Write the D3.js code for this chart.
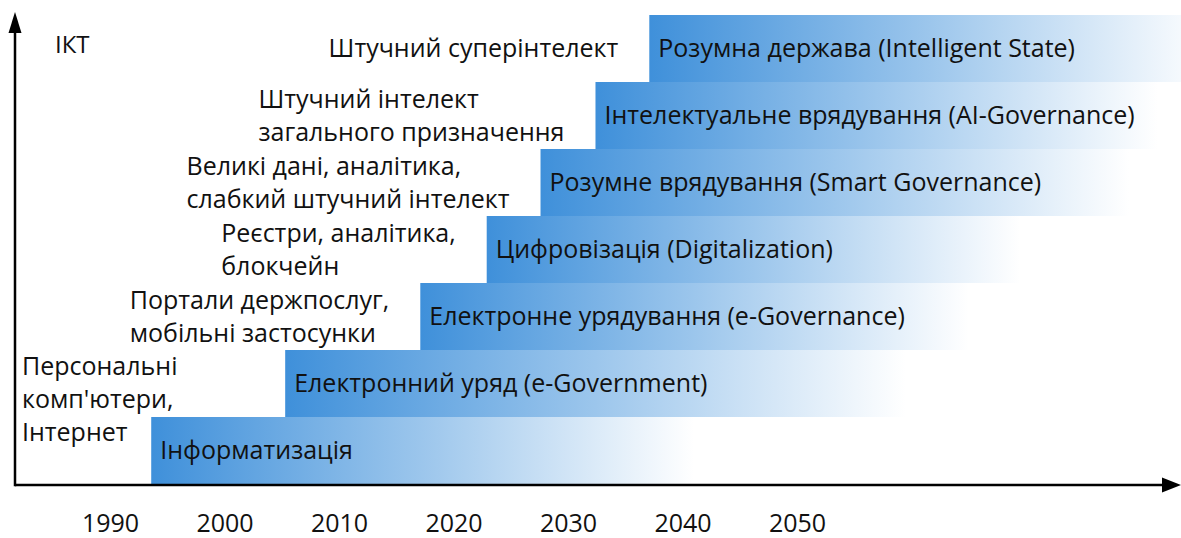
<!DOCTYPE html>
<html>
<head>
<meta charset="utf-8">
<script src="https://cdn.jsdelivr.net/npm/d3@7"></script>
<style>
  html, body { margin: 0; padding: 0; background: #fff; }
  svg { display: block; }
  text { font-family: "Open Sans", Lato, sans-serif; fill: #111; }
</style>
</head>
<body>
<svg id="chart" width="1181" height="538"></svg>
<script>
// ---- data ----
const yearTicks = [1990, 2000, 2010, 2020, 2030, 2040, 2050];
const stages = [
  "Інформатизація",
  "Електронний уряд (e-Government)",
  "Електронне урядування (e-Governance)",
  "Цифровізація (Digitalization)",
  "Розумне врядування (Smart Governance)",
  "Інтелектуальне врядування (AI-Governance)",
  "Розумна держава (Intelligent State)"
];
const stageStart = [1993.6, 2005.3, 2017.1, 2022.9, 2027.6, 2032.4, 2037.1];
const stageFade  = [2041.0, 2059.5, 2065.0, 2069.5, 2079.0, 2081.5, 2086.0];
const technologies = [
  ["Персональні", "комп'ютери,", "Інтернет"],
  [],
  ["Портали держпослуг,", "мобільні застосунки"],
  ["Реєстри, аналітика,", "блокчейн"],
  ["Великі дані, аналітика,", "слабкий штучний інтелект"],
  ["Штучний інтелект", "загального призначення"],
  ["Штучний суперінтелект"]
];
const yAxisLabel = "ІКТ";

// ---- layout ----
const W = 1181, H = 538;
const axisX = 15, axisY = 485;
const FS = "25px";
const svg = d3.select("#chart");

const x = d3.scaleLinear().domain([1990, 2050]).range([110, 797]);
const y = d3.scaleBand().domain(d3.range(stages.length)).range([axisY - 1, 15]).padding(0);

const defs = svg.append("defs");
stages.forEach((s, i) => {
  const g = defs.append("linearGradient")
    .attr("id", "grad" + i)
    .attr("gradientUnits", "userSpaceOnUse")
    .attr("x1", x(stageStart[i])).attr("x2", x(stageFade[i]))
    .attr("y1", 0).attr("y2", 0);
  g.append("stop").attr("offset", 0).attr("stop-color", "#3f90da");
  g.append("stop").attr("offset", 0.5).attr("stop-color", "#9cc6ec");
  g.append("stop").attr("offset", 1).attr("stop-color", "#ffffff");
});

// bars
svg.append("g").selectAll("rect")
  .data(stages)
  .join("rect")
  .attr("x", (d, i) => x(stageStart[i]))
  .attr("y", (d, i) => y(i))
  .attr("width", (d, i) => Math.min(W, x(stageFade[i])) - x(stageStart[i]))
  .attr("height", y.bandwidth())
  .attr("fill", (d, i) => `url(#grad${i})`);

// stage labels
svg.append("g").selectAll("text")
  .data(stages)
  .join("text")
  .attr("x", (d, i) => x(stageStart[i]) + 9)
  .attr("y", (d, i) => y(i) + y.bandwidth() / 2)
  .attr("dy", "0.35em")
  .style("font-size", FS)
  .text(d => d);

// technology labels (left-aligned blocks, placed just left of each stage)
const lineH = 33;
const techG = svg.append("g");
technologies.forEach((lines, i) => {
  if (!lines.length) return;
  const t = techG.append("text").style("font-size", FS);
  const n = lines.length;
  let cy = y(i) + y.bandwidth() / 2;
  if (i === 0) cy = y(0) - 18; // block sits above the first stage
  lines.forEach((l, k) => {
    t.append("tspan").attr("y", cy + (k - (n - 1) / 2) * lineH).attr("dy", "0.35em").text(l);
  });
  const tsp = t.selectAll("tspan");
  let maxW = 0;
  tsp.each(function () { maxW = Math.max(maxW, this.getComputedTextLength()); });
  const left = i === 0 ? axisX + 7 : x(stageStart[i]) - 31 - maxW;
  tsp.attr("x", left);
});

// axes
svg.append("line").attr("x1", axisX).attr("x2", W - 16).attr("y1", axisY).attr("y2", axisY)
  .attr("stroke", "#000").attr("stroke-width", 2.5);
svg.append("line").attr("x1", axisX).attr("x2", axisX).attr("y1", axisY + 1.25).attr("y2", 30)
  .attr("stroke", "#000").attr("stroke-width", 2.5);
svg.append("path").attr("d", `M${W},${axisY} L${W - 19},${axisY - 7.5} L${W - 19},${axisY + 7.5} Z`).attr("fill", "#000");
svg.append("path").attr("d", `M${axisX},12 L${axisX - 6.5},33 L${axisX + 6.5},33 Z`).attr("fill", "#000");

// year labels
const xAxis = svg.append("g").attr("transform", `translate(0,${axisY})`)
  .call(d3.axisBottom(x).tickValues(yearTicks).tickFormat(d3.format("d")).tickSize(0).tickPadding(29));
xAxis.select(".domain").remove();
xAxis.selectAll("text").style("font-size", FS).style("font-family", "'Open Sans', sans-serif").attr("fill", "#111");

// y-axis label
svg.append("text").attr("x", 55).attr("y", 45).attr("dy", "0.35em").style("font-size", "24px").text(yAxisLabel);
</script>
</body>
</html>
